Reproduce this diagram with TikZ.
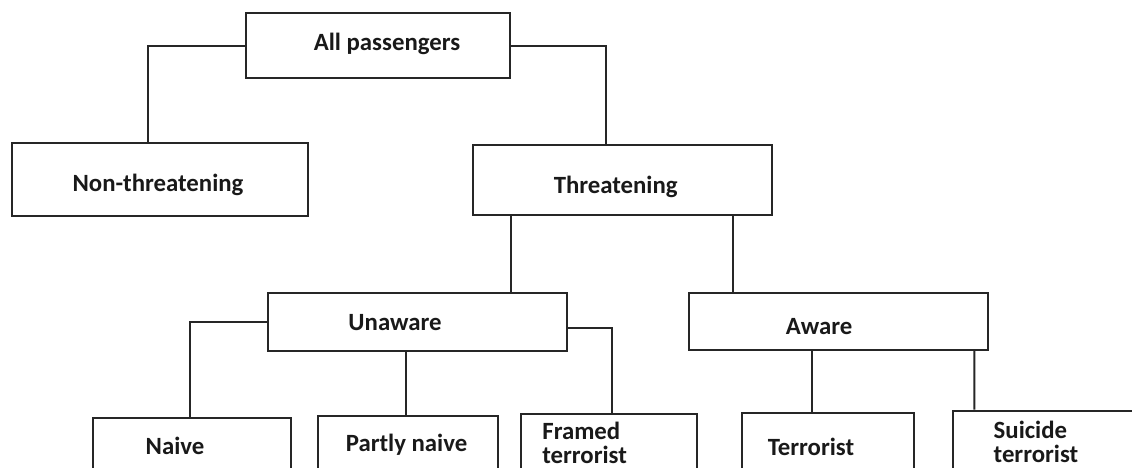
\documentclass[tikz,border=0pt]{standalone}
\usepackage{fontspec}
\setmainfont{Carlito}
\begin{document}
\begin{tikzpicture}[x=0.5pt,y=-0.5pt,
  catbox/.style={draw=black!85, line width=1pt, inner sep=0pt},
  catlabel/.style={font=\bfseries\fontsize{12.4}{12}\selectfont, text=black!90, inner sep=0pt, text height=8pt, text depth=0pt},
  catlabeltwo/.style={font=\bfseries\fontsize{12.4}{12}\selectfont, text=black!90, inner sep=0pt, align=left, anchor=west},
  link/.style={draw=black!85, line width=1pt}]
  \useasboundingbox (0,0) rectangle (1132,467);
  \clip (0,0) rectangle (1132,467);
  % boxes
  \node[catbox, minimum width=132pt, minimum height=32.5pt] (all) at (378,45.5) {};
  \node[catbox, minimum width=148.25pt, minimum height=36.5pt] (nonthr) at (159.75,179) {};
  \node[catbox, minimum width=149.2pt, minimum height=35pt] (thr) at (622.5,180) {};
  \node[catbox, minimum width=149.2pt, minimum height=29.15pt] (unaware) at (417.5,321.85) {};
  \node[catbox, minimum width=149.2pt, minimum height=28.65pt] (aware) at (838.5,321.35) {};
  \node[catbox, minimum width=99.25pt, minimum height=36pt] (naive) at (191.75,454) {};
  \node[catbox, minimum width=90pt, minimum height=37pt] (partly) at (408,453) {};
  \node[catbox, minimum width=88.25pt, minimum height=37.85pt] (framed) at (608.75,452.15) {};
  \node[catbox, minimum width=86.3pt, minimum height=38.35pt] (terr) at (828,451.65) {};
  \node[catbox, minimum width=98.75pt, minimum height=39.75pt] (suicide) at (1051.25,450.25) {};
  % texts
  \node[catlabel] (all-t) at (387,42) {All passengers};
  \node[catlabel] (nonthr-t) at (158,183) {Non-threatening};
  \node[catlabel] (thr-t) at (615.7,185) {Threatening};
  \node[catlabel] (unaware-t) at (395,322.7) {Unaware};
  \node[catlabel] (aware-t) at (819,326.7) {Aware};
  \node[catlabel] (naive-t) at (175,446) {Naive};
  \node[catlabel] (partly-t) at (406.5,443) {Partly naive};
  \node[catlabeltwo] (framed-t) at (542,442.5) {Framed\\terrorist};
  \node[catlabeltwo] (suicide-t) at (993.3,442) {Suicide\\terrorist};
  \node[catlabel] (terr-t) at (811,447) {Terrorist};
  % links
  \draw[link] (all.west) -| ([xshift=-5.9pt]nonthr.north);
  \draw[link] (all.east) -| ([xshift=-8.4pt]thr.north);
  \draw[link] ([xshift=-55.9pt]thr.south) -- ([xshift=46.6pt]unaware.north);
  \draw[link] ([xshift=55.4pt]thr.south) -- ([xshift=-52.6pt]aware.north);
  \draw[link] (unaware.west) -| ([xshift=-0.9pt]naive.north);
  \draw[link] ([xshift=-5.9pt]unaware.south) -- ([xshift=-1.15pt]partly.north);
  \draw[link] ([yshift=-3pt]unaware.east) -| ([xshift=1.6pt]framed.north);
  \draw[link] ([xshift=-13.1pt]aware.south) -- ([xshift=-7.85pt]terr.north);
  \draw[link] ([xshift=67.9pt]aware.south) -- ([xshift=-38.5pt]suicide.north);
\end{tikzpicture}
\end{document}
